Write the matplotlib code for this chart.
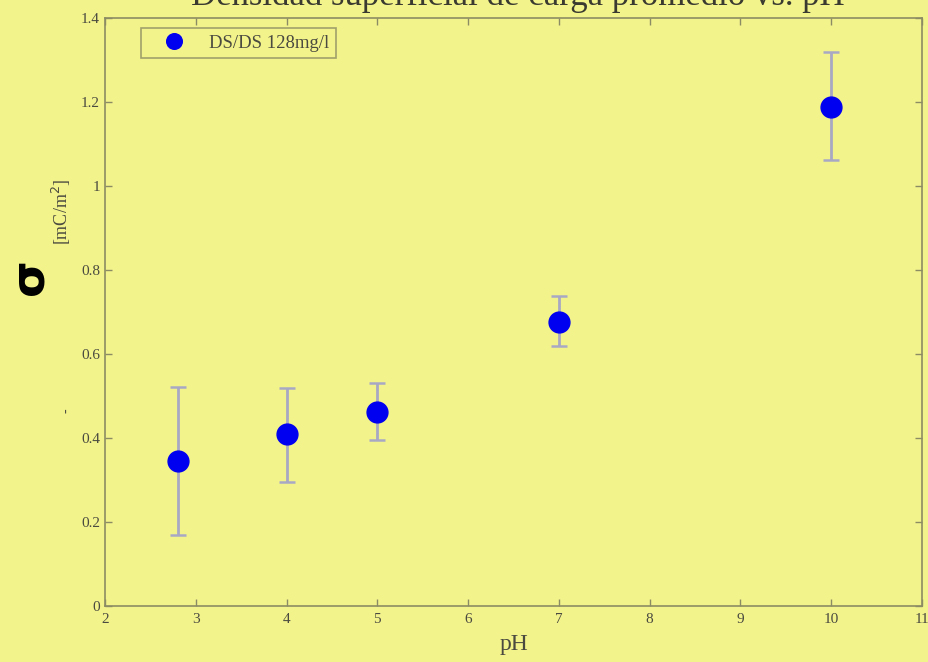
import matplotlib.pyplot as plt

# datos
ph = [2.8, 4, 5, 7, 10]
sigma = [0.345, 0.41, 0.462, 0.676, 1.188]
err_low = [0.176, 0.115, 0.067, 0.057, 0.126]
err_high = [0.176, 0.109, 0.069, 0.062, 0.131]
x_ticks = [2, 3, 4, 5, 6, 7, 8, 9, 10, 11]
y_ticks = [0, 0.2, 0.4, 0.6, 0.8, 1, 1.2, 1.4]
y_tick_labels = ['0', '0.2', '0.4', '0.6', '0.8', '1', '1.2', '1.4']

bg = '#F3F38C'
spine_col = '#8C8C64'
text_col = '#4A4A40'

plt.rcParams['font.family'] = ['Liberation Serif', 'DejaVu Serif']

fig = plt.figure(figsize=(9.29, 6.62), dpi=100, facecolor=bg)
ax = fig.add_axes([0.113, 0.0846, 0.8795, 0.8882], facecolor=bg)

eb = ax.errorbar(ph, sigma, yerr=[err_low, err_high], fmt='o', color='#0000F0',
                 markersize=15, ecolor='#A8A8C4', elinewidth=2, capsize=6,
                 capthick=1.8, label='DS/DS 128mg/l')

ax.set_xlim(2, 11)
ax.set_ylim(0, 1.4)
ax.set_xticks(x_ticks)
ax.set_yticks(y_ticks)
ax.set_yticklabels(y_tick_labels)
ax.tick_params(direction='in', top=True, right=True, length=5, width=1,
               color=spine_col, labelcolor=text_col, labelsize=11)
ax.tick_params(axis='x', pad=5)
for sp in ax.spines.values():
    sp.set_color(spine_col)
    sp.set_linewidth(1.2)

ax.set_xlabel('pH', fontsize=17, color=text_col, labelpad=6)

# solo el punto en la leyenda, sin barras de error
leg = ax.legend(handles=[eb[0]], labels=['DS/DS 128mg/l'], loc='upper left',
                bbox_to_anchor=(0.044, 0.983), fontsize=13.5,
                frameon=True, fancybox=False, markerscale=0.75,
                handlelength=2.8, handletextpad=0.5, borderpad=0.35,
                borderaxespad=0)
leg.get_frame().set_facecolor(bg)
leg.get_frame().set_edgecolor(spine_col)
leg.get_frame().set_linewidth(1.2)
for t in leg.get_texts():
    t.set_color(text_col)

# etiqueta del eje y
fig.text(0.032, 0.582, 'σ', fontsize=34, fontweight='bold', rotation=90,
         ha='center', va='center', family=['DejaVu Sans'], color='black')
fig.text(0.066, 0.68, '[mC/m$^2$]', fontsize=13, rotation=90,
         ha='center', va='center', color=text_col)
fig.text(0.072, 0.38, '-', fontsize=10, rotation=90,
         ha='center', va='center', color=text_col)

# titulo cortado arriba
fig.text(0.557, 0.9925, 'Densidad superficial de carga promedio vs. pH',
         fontsize=25, ha='center', va='baseline', color='#3A3A30')

fig.savefig('out.png', dpi=100, facecolor=bg)
